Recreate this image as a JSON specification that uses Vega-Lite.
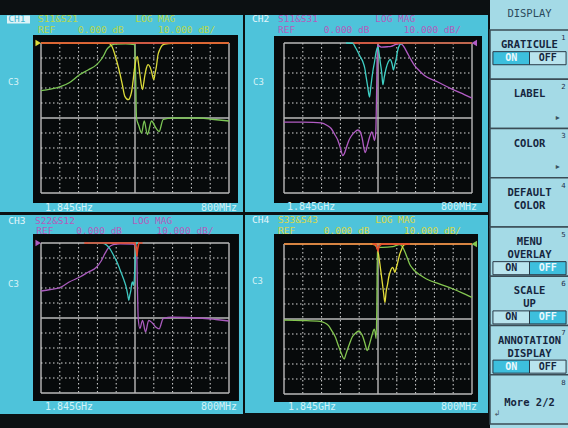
{
 "$schema": "https://vega.github.io/schema/vega-lite/v6.json",
 "background": "#0c1012",
 "padding": 0,
 "data": {"values": [{"k": 1}]},
 "config": {"view": {"stroke": null}, "axis": {"disable": true}, "legend": {"disable": true}},
 "datasets": {
  "grid": [{"g":0,"db":0},{"g":1,"db":-10},{"g":2,"db":-20},{"g":3,"db":-30},{"g":4,"db":-40},{"g":5,"db":-50},{"g":6,"db":-60},{"g":7,"db":-70},{"g":8,"db":-80},{"g":9,"db":-90},{"g":10,"db":-100}],
  "traces": [
   {"p":1,"tr":"T","f":0,"v":-31.8},{"p":1,"tr":"T","f":0.5,"v":-30.8},{"p":1,"tr":"T","f":1.0,"v":-29.3},{"p":1,"tr":"T","f":1.5,"v":-26.5},{"p":1,"tr":"T","f":2.07,"v":-21},{"p":1,"tr":"T","f":2.5,"v":-18},{"p":1,"tr":"T","f":2.96,"v":-14.4},{"p":1,"tr":"T","f":3.2,"v":-11},{"p":1,"tr":"T","f":3.35,"v":-8},{"p":1,"tr":"T","f":3.49,"v":-4.4},{"p":1,"tr":"T","f":3.7,"v":-1.8},{"p":1,"tr":"T","f":3.93,"v":-0.7},{"p":1,"tr":"T","f":4.5,"v":-0.5},{"p":1,"tr":"T","f":4.98,"v":-1},{"p":1,"tr":"T","f":5.03,"v":-20},{"p":1,"tr":"T","f":5.08,"v":-50},{"p":1,"tr":"T","f":5.2,"v":-55},{"p":1,"tr":"T","f":5.35,"v":-60},{"p":1,"tr":"T","f":5.49,"v":-52},{"p":1,"tr":"T","f":5.66,"v":-61},{"p":1,"tr":"T","f":5.88,"v":-52},{"p":1,"tr":"T","f":6.08,"v":-56},{"p":1,"tr":"T","f":6.28,"v":-59},{"p":1,"tr":"T","f":6.5,"v":-51},{"p":1,"tr":"T","f":7.0,"v":-50},{"p":1,"tr":"T","f":8.44,"v":-50},{"p":1,"tr":"T","f":9.2,"v":-51},{"p":1,"tr":"T","f":10,"v":-52},
   {"p":1,"tr":"R","f":0,"v":0},{"p":1,"tr":"R","f":3.6,"v":-0.3},{"p":1,"tr":"R","f":3.8,"v":-3},{"p":1,"tr":"R","f":3.93,"v":-7.8},{"p":1,"tr":"R","f":4.05,"v":-13},{"p":1,"tr":"R","f":4.19,"v":-20},{"p":1,"tr":"R","f":4.33,"v":-28},{"p":1,"tr":"R","f":4.46,"v":-35.6},{"p":1,"tr":"R","f":4.64,"v":-37.8},{"p":1,"tr":"R","f":4.81,"v":-33},{"p":1,"tr":"R","f":4.9,"v":-25},{"p":1,"tr":"R","f":4.99,"v":-15.6},{"p":1,"tr":"R","f":5.12,"v":-8.9},{"p":1,"tr":"R","f":5.2,"v":-15},{"p":1,"tr":"R","f":5.26,"v":-21},{"p":1,"tr":"R","f":5.4,"v":-31},{"p":1,"tr":"R","f":5.46,"v":-27},{"p":1,"tr":"R","f":5.52,"v":-22},{"p":1,"tr":"R","f":5.6,"v":-17},{"p":1,"tr":"R","f":5.7,"v":-14.4},{"p":1,"tr":"R","f":5.8,"v":-16},{"p":1,"tr":"R","f":5.88,"v":-19},{"p":1,"tr":"R","f":6.0,"v":-24.4},{"p":1,"tr":"R","f":6.07,"v":-20},{"p":1,"tr":"R","f":6.14,"v":-15.6},{"p":1,"tr":"R","f":6.22,"v":-8},{"p":1,"tr":"R","f":6.32,"v":-4.4},{"p":1,"tr":"R","f":6.45,"v":-1.5},{"p":1,"tr":"R","f":6.58,"v":-0.7},{"p":1,"tr":"R","f":7,"v":-0.2},{"p":1,"tr":"R","f":10,"v":0},
   {"p":1,"tr":"M","f":0,"v":0},{"p":1,"tr":"M","f":10,"v":0},
   {"p":2,"tr":"T","f":0,"v":-52.7},{"p":2,"tr":"T","f":1.0,"v":-52.8},{"p":2,"tr":"T","f":1.98,"v":-53.3},{"p":2,"tr":"T","f":2.3,"v":-55},{"p":2,"tr":"T","f":2.51,"v":-57},{"p":2,"tr":"T","f":2.7,"v":-61},{"p":2,"tr":"T","f":2.87,"v":-65},{"p":2,"tr":"T","f":3.0,"v":-70},{"p":2,"tr":"T","f":3.13,"v":-75},{"p":2,"tr":"T","f":3.2,"v":-74},{"p":2,"tr":"T","f":3.31,"v":-70},{"p":2,"tr":"T","f":3.45,"v":-65},{"p":2,"tr":"T","f":3.58,"v":-62},{"p":2,"tr":"T","f":3.75,"v":-59.5},{"p":2,"tr":"T","f":3.93,"v":-58},{"p":2,"tr":"T","f":4.05,"v":-59},{"p":2,"tr":"T","f":4.15,"v":-63},{"p":2,"tr":"T","f":4.32,"v":-73},{"p":2,"tr":"T","f":4.42,"v":-69},{"p":2,"tr":"T","f":4.5,"v":-65},{"p":2,"tr":"T","f":4.6,"v":-61},{"p":2,"tr":"T","f":4.67,"v":-59.3},{"p":2,"tr":"T","f":4.75,"v":-62},{"p":2,"tr":"T","f":4.81,"v":-65},{"p":2,"tr":"T","f":4.88,"v":-60},{"p":2,"tr":"T","f":4.93,"v":-30},{"p":2,"tr":"T","f":4.97,"v":-1.5},{"p":2,"tr":"T","f":5.17,"v":-2.7},{"p":2,"tr":"T","f":5.5,"v":-2.5},{"p":2,"tr":"T","f":5.7,"v":-2.2},{"p":2,"tr":"T","f":5.96,"v":-0.9},{"p":2,"tr":"T","f":6.2,"v":-0.4},{"p":2,"tr":"T","f":6.35,"v":-2},{"p":2,"tr":"T","f":6.58,"v":-7.1},{"p":2,"tr":"T","f":6.75,"v":-11},{"p":2,"tr":"T","f":6.94,"v":-14.9},{"p":2,"tr":"T","f":7.2,"v":-18.5},{"p":2,"tr":"T","f":7.47,"v":-21.6},{"p":2,"tr":"T","f":8.18,"v":-26},{"p":2,"tr":"T","f":8.88,"v":-30.4},{"p":2,"tr":"T","f":9.59,"v":-34.4},{"p":2,"tr":"T","f":10,"v":-36.7},
   {"p":2,"tr":"R","f":3.3,"v":0},{"p":2,"tr":"R","f":3.66,"v":-0.3},{"p":2,"tr":"R","f":3.8,"v":-3},{"p":2,"tr":"R","f":3.93,"v":-6},{"p":2,"tr":"R","f":4.05,"v":-9},{"p":2,"tr":"R","f":4.2,"v":-12.7},{"p":2,"tr":"R","f":4.3,"v":-17},{"p":2,"tr":"R","f":4.37,"v":-22.7},{"p":2,"tr":"R","f":4.45,"v":-29},{"p":2,"tr":"R","f":4.55,"v":-36},{"p":2,"tr":"R","f":4.61,"v":-30},{"p":2,"tr":"R","f":4.67,"v":-24},{"p":2,"tr":"R","f":4.75,"v":-17},{"p":2,"tr":"R","f":4.81,"v":-13},{"p":2,"tr":"R","f":4.9,"v":-6},{"p":2,"tr":"R","f":4.99,"v":-2.7},{"p":2,"tr":"R","f":5.05,"v":-6},{"p":2,"tr":"R","f":5.12,"v":-12.7},{"p":2,"tr":"R","f":5.2,"v":-20},{"p":2,"tr":"R","f":5.26,"v":-27.8},{"p":2,"tr":"R","f":5.33,"v":-23},{"p":2,"tr":"R","f":5.43,"v":-17},{"p":2,"tr":"R","f":5.55,"v":-12.5},{"p":2,"tr":"R","f":5.65,"v":-11},{"p":2,"tr":"R","f":5.75,"v":-14},{"p":2,"tr":"R","f":5.82,"v":-18},{"p":2,"tr":"R","f":5.9,"v":-14},{"p":2,"tr":"R","f":5.96,"v":-11},{"p":2,"tr":"R","f":6.03,"v":-6},{"p":2,"tr":"R","f":6.1,"v":-2.7},{"p":2,"tr":"R","f":6.23,"v":-0.4},{"p":2,"tr":"R","f":6.5,"v":0},{"p":2,"tr":"R","f":10,"v":0},
   {"p":2,"tr":"M","f":3.7,"v":0},{"p":2,"tr":"M","f":10,"v":0},
   {"p":3,"tr":"T","f":0,"v":-32},{"p":3,"tr":"T","f":0.5,"v":-31},{"p":3,"tr":"T","f":1.0,"v":-29.8},{"p":3,"tr":"T","f":1.5,"v":-26},{"p":3,"tr":"T","f":2.07,"v":-22.7},{"p":3,"tr":"T","f":2.5,"v":-19.5},{"p":3,"tr":"T","f":2.96,"v":-16},{"p":3,"tr":"T","f":3.2,"v":-12},{"p":3,"tr":"T","f":3.4,"v":-7.1},{"p":3,"tr":"T","f":3.6,"v":-3},{"p":3,"tr":"T","f":3.84,"v":-1.1},{"p":3,"tr":"T","f":4.2,"v":-0.5},{"p":3,"tr":"T","f":4.9,"v":-0.8},{"p":3,"tr":"T","f":5.08,"v":-3},{"p":3,"tr":"T","f":5.13,"v":-30},{"p":3,"tr":"T","f":5.17,"v":-50},{"p":3,"tr":"T","f":5.26,"v":-57},{"p":3,"tr":"T","f":5.4,"v":-51.6},{"p":3,"tr":"T","f":5.56,"v":-59.3},{"p":3,"tr":"T","f":5.73,"v":-51.6},{"p":3,"tr":"T","f":5.9,"v":-53},{"p":3,"tr":"T","f":6.1,"v":-56},{"p":3,"tr":"T","f":6.28,"v":-57.3},{"p":3,"tr":"T","f":6.5,"v":-50.4},{"p":3,"tr":"T","f":7.0,"v":-49.5},{"p":3,"tr":"T","f":8.44,"v":-50},{"p":3,"tr":"T","f":9.3,"v":-51},{"p":3,"tr":"T","f":10,"v":-52},
   {"p":3,"tr":"R","f":2.5,"v":0},{"p":3,"tr":"R","f":3.3,"v":-0.3},{"p":3,"tr":"R","f":3.5,"v":-1.5},{"p":3,"tr":"R","f":3.66,"v":-3.8},{"p":3,"tr":"R","f":3.85,"v":-8},{"p":3,"tr":"R","f":4.0,"v":-11.6},{"p":3,"tr":"R","f":4.15,"v":-16},{"p":3,"tr":"R","f":4.28,"v":-20.4},{"p":3,"tr":"R","f":4.42,"v":-25},{"p":3,"tr":"R","f":4.55,"v":-30.4},{"p":3,"tr":"R","f":4.62,"v":-35},{"p":3,"tr":"R","f":4.67,"v":-38.2},{"p":3,"tr":"R","f":4.72,"v":-35},{"p":3,"tr":"R","f":4.78,"v":-31.6},{"p":3,"tr":"R","f":4.83,"v":-27},{"p":3,"tr":"R","f":4.87,"v":-26},{"p":3,"tr":"R","f":4.92,"v":-28.2},{"p":3,"tr":"R","f":4.96,"v":-25},{"p":3,"tr":"R","f":5.0,"v":-15},{"p":3,"tr":"R","f":5.03,"v":-5},{"p":3,"tr":"R","f":5.08,"v":0},{"p":3,"tr":"R","f":5.3,"v":0},
   {"p":3,"tr":"M","f":2.3,"v":0},{"p":3,"tr":"M","f":5.0,"v":0},{"p":3,"tr":"M","f":5.06,"v":-4},{"p":3,"tr":"M","f":5.1,"v":-9},{"p":3,"tr":"M","f":5.14,"v":-4},{"p":3,"tr":"M","f":5.2,"v":0},{"p":3,"tr":"M","f":5.4,"v":0},
   {"p":4,"tr":"T","f":0,"v":-50.7},{"p":4,"tr":"T","f":1.0,"v":-51},{"p":4,"tr":"T","f":1.92,"v":-51.6},{"p":4,"tr":"T","f":2.15,"v":-52.5},{"p":4,"tr":"T","f":2.37,"v":-54.4},{"p":4,"tr":"T","f":2.55,"v":-58},{"p":4,"tr":"T","f":2.73,"v":-62},{"p":4,"tr":"T","f":2.9,"v":-68},{"p":4,"tr":"T","f":3.05,"v":-73},{"p":4,"tr":"T","f":3.2,"v":-76.7},{"p":4,"tr":"T","f":3.28,"v":-74},{"p":4,"tr":"T","f":3.36,"v":-71},{"p":4,"tr":"T","f":3.5,"v":-66},{"p":4,"tr":"T","f":3.63,"v":-62},{"p":4,"tr":"T","f":3.8,"v":-59.5},{"p":4,"tr":"T","f":3.99,"v":-58},{"p":4,"tr":"T","f":4.1,"v":-59.5},{"p":4,"tr":"T","f":4.2,"v":-62},{"p":4,"tr":"T","f":4.3,"v":-66},{"p":4,"tr":"T","f":4.43,"v":-71},{"p":4,"tr":"T","f":4.52,"v":-68},{"p":4,"tr":"T","f":4.6,"v":-64.4},{"p":4,"tr":"T","f":4.7,"v":-60},{"p":4,"tr":"T","f":4.8,"v":-56.7},{"p":4,"tr":"T","f":4.85,"v":-59},{"p":4,"tr":"T","f":4.9,"v":-63},{"p":4,"tr":"T","f":4.94,"v":-40},{"p":4,"tr":"T","f":4.97,"v":-2.2},{"p":4,"tr":"T","f":5.24,"v":-2.2},{"p":4,"tr":"T","f":5.78,"v":-1.8},{"p":4,"tr":"T","f":6.14,"v":-0.4},{"p":4,"tr":"T","f":6.28,"v":-1.5},{"p":4,"tr":"T","f":6.4,"v":-4.4},{"p":4,"tr":"T","f":6.55,"v":-9},{"p":4,"tr":"T","f":6.68,"v":-13.3},{"p":4,"tr":"T","f":6.85,"v":-16.5},{"p":4,"tr":"T","f":7.04,"v":-18.9},{"p":4,"tr":"T","f":7.3,"v":-21.2},{"p":4,"tr":"T","f":7.58,"v":-23.3},{"p":4,"tr":"T","f":8.29,"v":-26.7},{"p":4,"tr":"T","f":9.0,"v":-30},{"p":4,"tr":"T","f":9.5,"v":-32.7},{"p":4,"tr":"T","f":10,"v":-35.6},
   {"p":4,"tr":"R","f":4.6,"v":0},{"p":4,"tr":"R","f":4.8,"v":-0.5},{"p":4,"tr":"R","f":4.9,"v":-1.5},{"p":4,"tr":"R","f":4.97,"v":-3.3},{"p":4,"tr":"R","f":5.03,"v":-7},{"p":4,"tr":"R","f":5.1,"v":-13.3},{"p":4,"tr":"R","f":5.17,"v":-20},{"p":4,"tr":"R","f":5.24,"v":-26.7},{"p":4,"tr":"R","f":5.3,"v":-33},{"p":4,"tr":"R","f":5.37,"v":-39},{"p":4,"tr":"R","f":5.43,"v":-32},{"p":4,"tr":"R","f":5.51,"v":-26.7},{"p":4,"tr":"R","f":5.58,"v":-21.5},{"p":4,"tr":"R","f":5.64,"v":-18.9},{"p":4,"tr":"R","f":5.71,"v":-16.5},{"p":4,"tr":"R","f":5.78,"v":-15.6},{"p":4,"tr":"R","f":5.84,"v":-17},{"p":4,"tr":"R","f":5.9,"v":-18.9},{"p":4,"tr":"R","f":5.97,"v":-16},{"p":4,"tr":"R","f":6.05,"v":-12.2},{"p":4,"tr":"R","f":6.14,"v":-7.5},{"p":4,"tr":"R","f":6.23,"v":-4.4},{"p":4,"tr":"R","f":6.32,"v":-1.5},{"p":4,"tr":"R","f":6.41,"v":-0.4},{"p":4,"tr":"R","f":6.6,"v":0},
   {"p":4,"tr":"O","f":0,"v":0},{"p":4,"tr":"O","f":10,"v":0},
   {"p":4,"tr":"M","f":4.7,"v":0},{"p":4,"tr":"M","f":4.88,"v":0},{"p":4,"tr":"M","f":4.95,"v":-3},{"p":4,"tr":"M","f":5.0,"v":-4.4},{"p":4,"tr":"M","f":5.06,"v":-1.5},{"p":4,"tr":"M","f":5.2,"v":0},{"p":4,"tr":"M","f":6.7,"v":0}
  ],
  "keys": [{"item":"GRATICULE","n":"1"},{"item":"LABEL","n":"2"},{"item":"COLOR","n":"3"},{"item":"DEFAULT COLOR","n":"4"},{"item":"MENU OVERLAY","n":"5"},{"item":"SCALE UP","n":"6"},{"item":"ANNOTATION DISPLAY","n":"7"},{"item":"More 2/2","n":"8"}],
  "lines": [
   {"item":"GRATICULE","line":"1","t":"GRATICULE"},
   {"item":"LABEL","line":"1","t":"LABEL"},
   {"item":"COLOR","line":"1","t":"COLOR"},
   {"item":"DEFAULT COLOR","line":"1","t":"DEFAULT"},{"item":"DEFAULT COLOR","line":"2","t":"COLOR"},
   {"item":"MENU OVERLAY","line":"1","t":"MENU"},{"item":"MENU OVERLAY","line":"2","t":"OVERLAY"},
   {"item":"SCALE UP","line":"1","t":"SCALE"},{"item":"SCALE UP","line":"2","t":"UP"},
   {"item":"ANNOTATION DISPLAY","line":"1","t":"ANNOTATION"},{"item":"ANNOTATION DISPLAY","line":"2","t":"DISPLAY"},
   {"item":"More 2/2","line":"2","t":"More 2/2"}
  ],
  "toggles": [
   {"item":"GRATICULE","line":"2","half":"ON","on":"y"},{"item":"GRATICULE","line":"2","half":"OFF","on":"n"},
   {"item":"MENU OVERLAY","line":"3","half":"ON","on":"n"},{"item":"MENU OVERLAY","line":"3","half":"OFF","on":"y"},
   {"item":"SCALE UP","line":"3","half":"ON","on":"n"},{"item":"SCALE UP","line":"3","half":"OFF","on":"y"},
   {"item":"ANNOTATION DISPLAY","line":"3","half":"ON","on":"y"},{"item":"ANNOTATION DISPLAY","line":"3","half":"OFF","on":"n"}
  ],
  "arrows": [{"item":"LABEL"},{"item":"COLOR"}]
 },
 "resolve": {"scale": {"color": "independent"}},
 "hconcat": [
  {"resolve": {"scale": {"color": "independent"}}, "vconcat": [
   {"resolve": {"scale": {"color": "independent"}}, "hconcat": [
    {"width": 243, "height": 212, "layer": [
     {"mark": {"type": "rect", "fill": "#4ec3da"}, "encoding": {"x": {"datum": -2.1809, "type": "quantitative", "scale": {"domain": [-2.1809, 10.7447], "nice": false, "zero": false}}, "x2": {"datum": 10.7447}, "y": {"datum": 18.667, "type": "quantitative", "scale": {"domain": [-112.667, 28.667], "nice": false, "zero": false}}, "y2": {"datum": -112.667}}},
     {"mark": {"type": "rect", "fill": "#070a0b"}, "encoding": {"x": {"datum": -0.4255, "type": "quantitative"}, "x2": {"datum": 10.479}, "y": {"datum": 5.333, "type": "quantitative"}, "y2": {"datum": -106.667}}},
     {"data": {"name": "grid"}, "mark": {"type": "rule"}, "encoding": {"x": {"field": "g", "type": "quantitative"}, "y": {"datum": 0, "type": "quantitative"}, "y2": {"datum": -100}, "color": {"condition": {"test": "datum.g % 5 === 0", "value": "#b9b9b9"}, "value": "#d8d8d8"}, "strokeDash": {"condition": {"test": "datum.g % 5 === 0", "value": [1, 0]}, "value": [1.5, 2.5]}, "strokeWidth": {"condition": {"test": "datum.g % 5 === 0", "value": 1.4}, "value": 1}}},
     {"data": {"name": "grid"}, "mark": {"type": "rule"}, "encoding": {"y": {"field": "db", "type": "quantitative"}, "x": {"datum": 0, "type": "quantitative"}, "x2": {"datum": 10}, "color": {"condition": {"test": "datum.g % 5 === 0", "value": "#b9b9b9"}, "value": "#d8d8d8"}, "strokeDash": {"condition": {"test": "datum.g % 5 === 0", "value": [1, 0]}, "value": [1.5, 2.5]}, "strokeWidth": {"condition": {"test": "datum.g % 5 === 0", "value": 1.4}, "value": 1}}},
     {"data": {"name": "traces"}, "transform": [{"filter": "datum.p === 1 && (datum.tr === 'T' || datum.tr === 'R')"}], "mark": {"type": "line", "interpolate": "monotone", "strokeWidth": 1.3}, "encoding": {"x": {"field": "f", "type": "quantitative"}, "y": {"field": "v", "type": "quantitative"}, "color": {"field": "tr", "type": "nominal", "scale": {"domain": ["T","R","O","M"], "range": ["#7cc655","#dcdc3a","#f0822a","#e5482b"]}}}},
     {"data": {"name": "traces"}, "transform": [{"filter": "datum.p === 1 && (datum.tr === 'O' || datum.tr === 'M')"}], "mark": {"type": "line", "strokeWidth": 1.6}, "encoding": {"x": {"field": "f", "type": "quantitative"}, "y": {"field": "v", "type": "quantitative"}, "color": {"field": "tr", "type": "nominal", "scale": {"domain": ["T","R","O","M"], "range": ["#7cc655","#dcdc3a","#f0822a","#e5482b"]}}}},
     {"mark": {"type": "point", "shape": "triangle-right", "filled": true, "size": 40, "color": "#dcdc3a", "opacity": 1}, "encoding": {"x": {"datum": -0.15, "type": "quantitative"}, "y": {"datum": 0, "type": "quantitative"}}},
     {"mark": {"type": "rect", "fill": "#dff3f7"}, "encoding": {"x": {"datum": -1.81, "type": "quantitative"}, "x2": {"datum": -0.585}, "y": {"datum": 18.3, "type": "quantitative"}, "y2": {"datum": 13.0}}},
     {"mark": {"type": "text", "text": "CH1", "font": "DejaVu Sans Mono", "fontSize": 9.5, "align": "left", "baseline": "middle", "color": "#3fb6d0"}, "encoding": {"x": {"datum": -1.74, "type": "quantitative"}, "y": {"datum": 15.67, "type": "quantitative"}}},
     {"mark": {"type": "text", "text": "S11&S21\u00a0\u00a0\u00a0\u00a0\u00a0\u00a0\u00a0\u00a0\u00a0\u00a0LOG\u00a0MAG", "font": "DejaVu Sans Mono", "fontSize": 9.5, "align": "left", "baseline": "middle", "color": "#b8d84c"}, "encoding": {"x": {"datum": -0.16, "type": "quantitative"}, "y": {"datum": 15.67, "type": "quantitative"}}},
     {"mark": {"type": "text", "text": "REF\u00a0\u00a0\u00a0\u00a00.000\u00a0dB\u00a0\u00a0\u00a0\u00a0\u00a0\u00a010.000\u00a0dB/", "font": "DejaVu Sans Mono", "fontSize": 9.5, "align": "left", "baseline": "middle", "color": "#b8d84c"}, "encoding": {"x": {"datum": -0.16, "type": "quantitative"}, "y": {"datum": 8.67, "type": "quantitative"}}},
     {"mark": {"type": "text", "text": "C3", "font": "DejaVu Sans Mono", "fontSize": 9, "align": "left", "baseline": "middle", "color": "#d8f2f6"}, "encoding": {"x": {"datum": -1.755, "type": "quantitative"}, "y": {"datum": -26, "type": "quantitative"}}},
     {"mark": {"type": "text", "text": "1.845GHz", "font": "DejaVu Sans Mono", "fontSize": 10, "align": "left", "baseline": "middle", "color": "#d2f2f8"}, "encoding": {"x": {"datum": 0.21, "type": "quantitative"}, "y": {"datum": -110, "type": "quantitative"}}},
     {"mark": {"type": "text", "text": "800MHz", "font": "DejaVu Sans Mono", "fontSize": 10, "align": "right", "baseline": "middle", "color": "#d2f2f8"}, "encoding": {"x": {"datum": 10.43, "type": "quantitative"}, "y": {"datum": -110, "type": "quantitative"}}}
    ]},
    {"width": 243, "height": 212, "layer": [
     {"mark": {"type": "rect", "fill": "#4ec3da"}, "encoding": {"x": {"datum": -2.0745, "type": "quantitative", "scale": {"domain": [-2.0745, 10.8511], "nice": false, "zero": false}}, "x2": {"datum": 10.8511}, "y": {"datum": 18.667, "type": "quantitative", "scale": {"domain": [-112.667, 28.667], "nice": false, "zero": false}}, "y2": {"datum": -112.667}}},
     {"mark": {"type": "rect", "fill": "#070a0b"}, "encoding": {"x": {"datum": -0.532, "type": "quantitative"}, "x2": {"datum": 10.532}, "y": {"datum": 4.67, "type": "quantitative"}, "y2": {"datum": -106.67}}},
     {"data": {"name": "grid"}, "mark": {"type": "rule"}, "encoding": {"x": {"field": "g", "type": "quantitative"}, "y": {"datum": 0, "type": "quantitative"}, "y2": {"datum": -100}, "color": {"condition": {"test": "datum.g % 5 === 0", "value": "#b9b9b9"}, "value": "#d8d8d8"}, "strokeDash": {"condition": {"test": "datum.g % 5 === 0", "value": [1, 0]}, "value": [1.5, 2.5]}, "strokeWidth": {"condition": {"test": "datum.g % 5 === 0", "value": 1.4}, "value": 1}}},
     {"data": {"name": "grid"}, "mark": {"type": "rule"}, "encoding": {"y": {"field": "db", "type": "quantitative"}, "x": {"datum": 0, "type": "quantitative"}, "x2": {"datum": 10}, "color": {"condition": {"test": "datum.g % 5 === 0", "value": "#b9b9b9"}, "value": "#d8d8d8"}, "strokeDash": {"condition": {"test": "datum.g % 5 === 0", "value": [1, 0]}, "value": [1.5, 2.5]}, "strokeWidth": {"condition": {"test": "datum.g % 5 === 0", "value": 1.4}, "value": 1}}},
     {"data": {"name": "traces"}, "transform": [{"filter": "datum.p === 2 && (datum.tr === 'T' || datum.tr === 'R')"}], "mark": {"type": "line", "interpolate": "monotone", "strokeWidth": 1.3}, "encoding": {"x": {"field": "f", "type": "quantitative"}, "y": {"field": "v", "type": "quantitative"}, "color": {"field": "tr", "type": "nominal", "scale": {"domain": ["T","R","O","M"], "range": ["#b25cc4","#3fcfc4","#f0822a","#e5482b"]}}}},
     {"data": {"name": "traces"}, "transform": [{"filter": "datum.p === 2 && (datum.tr === 'O' || datum.tr === 'M')"}], "mark": {"type": "line", "strokeWidth": 1.6}, "encoding": {"x": {"field": "f", "type": "quantitative"}, "y": {"field": "v", "type": "quantitative"}, "color": {"field": "tr", "type": "nominal", "scale": {"domain": ["T","R","O","M"], "range": ["#b25cc4","#3fcfc4","#f0822a","#e5482b"]}}}},
     {"mark": {"type": "point", "shape": "triangle-left", "filled": true, "size": 40, "color": "#b25cc4", "opacity": 1}, "encoding": {"x": {"datum": 10.12, "type": "quantitative"}, "y": {"datum": 0, "type": "quantitative"}}},
     {"mark": {"type": "text", "text": "CH2", "font": "DejaVu Sans Mono", "fontSize": 9.5, "align": "left", "baseline": "middle", "color": "#e6f6fa"}, "encoding": {"x": {"datum": -1.7, "type": "quantitative"}, "y": {"datum": 15.67, "type": "quantitative"}}},
     {"mark": {"type": "text", "text": "S11&S31\u00a0\u00a0\u00a0\u00a0\u00a0\u00a0\u00a0\u00a0\u00a0\u00a0LOG\u00a0MAG", "font": "DejaVu Sans Mono", "fontSize": 9.5, "align": "left", "baseline": "middle", "color": "#b45cbc"}, "encoding": {"x": {"datum": -0.32, "type": "quantitative"}, "y": {"datum": 15.67, "type": "quantitative"}}},
     {"mark": {"type": "text", "text": "REF\u00a0\u00a0\u00a0\u00a0\u00a00.000\u00a0dB\u00a0\u00a0\u00a0\u00a0\u00a0\u00a010.000\u00a0dB/", "font": "DejaVu Sans Mono", "fontSize": 9.5, "align": "left", "baseline": "middle", "color": "#b45cbc"}, "encoding": {"x": {"datum": -0.32, "type": "quantitative"}, "y": {"datum": 8.67, "type": "quantitative"}}},
     {"mark": {"type": "text", "text": "C3", "font": "DejaVu Sans Mono", "fontSize": 9, "align": "left", "baseline": "middle", "color": "#d8f2f6"}, "encoding": {"x": {"datum": -1.65, "type": "quantitative"}, "y": {"datum": -26, "type": "quantitative"}}},
     {"mark": {"type": "text", "text": "1.845GHz", "font": "DejaVu Sans Mono", "fontSize": 10, "align": "left", "baseline": "middle", "color": "#d2f2f8"}, "encoding": {"x": {"datum": 0.16, "type": "quantitative"}, "y": {"datum": -109.3, "type": "quantitative"}}},
     {"mark": {"type": "text", "text": "800MHz", "font": "DejaVu Sans Mono", "fontSize": 10, "align": "right", "baseline": "middle", "color": "#d2f2f8"}, "encoding": {"x": {"datum": 10.27, "type": "quantitative"}, "y": {"datum": -109.3, "type": "quantitative"}}}
    ]}
   ], "spacing": 2},
   {"resolve": {"scale": {"color": "independent"}}, "hconcat": [
    {"width": 243, "height": 214, "layer": [
     {"mark": {"type": "rect", "fill": "#4ec3da"}, "encoding": {"x": {"datum": -2.1809, "type": "quantitative", "scale": {"domain": [-2.1809, 10.7447], "nice": false, "zero": false}}, "x2": {"datum": 10.7447}, "y": {"datum": 18.667, "type": "quantitative", "scale": {"domain": [-124, 18.667], "nice": false, "zero": false}}, "y2": {"datum": -114}}},
     {"mark": {"type": "rect", "fill": "#070a0b"}, "encoding": {"x": {"datum": -0.4255, "type": "quantitative"}, "x2": {"datum": 10.53}, "y": {"datum": 6, "type": "quantitative"}, "y2": {"datum": -105.33}}},
     {"data": {"name": "grid"}, "mark": {"type": "rule"}, "encoding": {"x": {"field": "g", "type": "quantitative"}, "y": {"datum": 0, "type": "quantitative"}, "y2": {"datum": -100}, "color": {"condition": {"test": "datum.g % 5 === 0", "value": "#b9b9b9"}, "value": "#d8d8d8"}, "strokeDash": {"condition": {"test": "datum.g % 5 === 0", "value": [1, 0]}, "value": [1.5, 2.5]}, "strokeWidth": {"condition": {"test": "datum.g % 5 === 0", "value": 1.4}, "value": 1}}},
     {"data": {"name": "grid"}, "mark": {"type": "rule"}, "encoding": {"y": {"field": "db", "type": "quantitative"}, "x": {"datum": 0, "type": "quantitative"}, "x2": {"datum": 10}, "color": {"condition": {"test": "datum.g % 5 === 0", "value": "#b9b9b9"}, "value": "#d8d8d8"}, "strokeDash": {"condition": {"test": "datum.g % 5 === 0", "value": [1, 0]}, "value": [1.5, 2.5]}, "strokeWidth": {"condition": {"test": "datum.g % 5 === 0", "value": 1.4}, "value": 1}}},
     {"data": {"name": "traces"}, "transform": [{"filter": "datum.p === 3 && (datum.tr === 'T' || datum.tr === 'R')"}], "mark": {"type": "line", "interpolate": "monotone", "strokeWidth": 1.3}, "encoding": {"x": {"field": "f", "type": "quantitative"}, "y": {"field": "v", "type": "quantitative"}, "color": {"field": "tr", "type": "nominal", "scale": {"domain": ["T","R","O","M"], "range": ["#a95bbd","#3fc8c0","#f0822a","#e5482b"]}}}},
     {"data": {"name": "traces"}, "transform": [{"filter": "datum.p === 3 && (datum.tr === 'O' || datum.tr === 'M')"}], "mark": {"type": "line", "strokeWidth": 1.6}, "encoding": {"x": {"field": "f", "type": "quantitative"}, "y": {"field": "v", "type": "quantitative"}, "color": {"field": "tr", "type": "nominal", "scale": {"domain": ["T","R","O","M"], "range": ["#a95bbd","#3fc8c0","#f0822a","#e5482b"]}}}},
     {"mark": {"type": "point", "shape": "triangle-right", "filled": true, "size": 40, "color": "#a95bbd", "opacity": 1}, "encoding": {"x": {"datum": -0.15, "type": "quantitative"}, "y": {"datum": 0, "type": "quantitative"}}},
     {"mark": {"type": "text", "text": "CH3", "font": "DejaVu Sans Mono", "fontSize": 9.5, "align": "left", "baseline": "middle", "color": "#e6f6fa"}, "encoding": {"x": {"datum": -1.74, "type": "quantitative"}, "y": {"datum": 15, "type": "quantitative"}}},
     {"mark": {"type": "text", "text": "S22&S12\u00a0\u00a0\u00a0\u00a0\u00a0\u00a0\u00a0\u00a0\u00a0\u00a0LOG\u00a0MAG", "font": "DejaVu Sans Mono", "fontSize": 9.5, "align": "left", "baseline": "middle", "color": "#b45cbc"}, "encoding": {"x": {"datum": -0.32, "type": "quantitative"}, "y": {"datum": 15, "type": "quantitative"}}},
     {"mark": {"type": "text", "text": "REF\u00a0\u00a0\u00a0\u00a00.000\u00a0dB\u00a0\u00a0\u00a0\u00a0\u00a0\u00a010.000\u00a0dB/", "font": "DejaVu Sans Mono", "fontSize": 9.5, "align": "left", "baseline": "middle", "color": "#b45cbc"}, "encoding": {"x": {"datum": -0.25, "type": "quantitative"}, "y": {"datum": 8, "type": "quantitative"}}},
     {"mark": {"type": "text", "text": "C3", "font": "DejaVu Sans Mono", "fontSize": 9, "align": "left", "baseline": "middle", "color": "#d8f2f6"}, "encoding": {"x": {"datum": -1.755, "type": "quantitative"}, "y": {"datum": -27.3, "type": "quantitative"}}},
     {"mark": {"type": "text", "text": "1.845GHz", "font": "DejaVu Sans Mono", "fontSize": 10, "align": "left", "baseline": "middle", "color": "#d2f2f8"}, "encoding": {"x": {"datum": 0.21, "type": "quantitative"}, "y": {"datum": -109.3, "type": "quantitative"}}},
     {"mark": {"type": "text", "text": "800MHz", "font": "DejaVu Sans Mono", "fontSize": 10, "align": "right", "baseline": "middle", "color": "#d2f2f8"}, "encoding": {"x": {"datum": 10.43, "type": "quantitative"}, "y": {"datum": -109.3, "type": "quantitative"}}}
    ]},
    {"width": 243, "height": 214, "layer": [
     {"mark": {"type": "rect", "fill": "#4ec3da"}, "encoding": {"x": {"datum": -2.0745, "type": "quantitative", "scale": {"domain": [-2.0745, 10.8511], "nice": false, "zero": false}}, "x2": {"datum": 10.8511}, "y": {"datum": 19.333, "type": "quantitative", "scale": {"domain": [-123.333, 19.333], "nice": false, "zero": false}}, "y2": {"datum": -112.667}}},
     {"mark": {"type": "rect", "fill": "#070a0b"}, "encoding": {"x": {"datum": -0.532, "type": "quantitative"}, "x2": {"datum": 10.32}, "y": {"datum": 6.67, "type": "quantitative"}, "y2": {"datum": -105.33}}},
     {"data": {"name": "grid"}, "mark": {"type": "rule"}, "encoding": {"x": {"field": "g", "type": "quantitative"}, "y": {"datum": 0, "type": "quantitative"}, "y2": {"datum": -100}, "color": {"condition": {"test": "datum.g % 5 === 0", "value": "#b9b9b9"}, "value": "#d8d8d8"}, "strokeDash": {"condition": {"test": "datum.g % 5 === 0", "value": [1, 0]}, "value": [1.5, 2.5]}, "strokeWidth": {"condition": {"test": "datum.g % 5 === 0", "value": 1.4}, "value": 1}}},
     {"data": {"name": "grid"}, "mark": {"type": "rule"}, "encoding": {"y": {"field": "db", "type": "quantitative"}, "x": {"datum": 0, "type": "quantitative"}, "x2": {"datum": 10}, "color": {"condition": {"test": "datum.g % 5 === 0", "value": "#b9b9b9"}, "value": "#d8d8d8"}, "strokeDash": {"condition": {"test": "datum.g % 5 === 0", "value": [1, 0]}, "value": [1.5, 2.5]}, "strokeWidth": {"condition": {"test": "datum.g % 5 === 0", "value": 1.4}, "value": 1}}},
     {"data": {"name": "traces"}, "transform": [{"filter": "datum.p === 4 && (datum.tr === 'T' || datum.tr === 'R')"}], "mark": {"type": "line", "interpolate": "monotone", "strokeWidth": 1.3}, "encoding": {"x": {"field": "f", "type": "quantitative"}, "y": {"field": "v", "type": "quantitative"}, "color": {"field": "tr", "type": "nominal", "scale": {"domain": ["T","R","O","M"], "range": ["#84c650","#e2dc3a","#f0822a","#e5482b"]}}}},
     {"data": {"name": "traces"}, "transform": [{"filter": "datum.p === 4 && (datum.tr === 'O' || datum.tr === 'M')"}], "mark": {"type": "line", "strokeWidth": 1.6}, "encoding": {"x": {"field": "f", "type": "quantitative"}, "y": {"field": "v", "type": "quantitative"}, "color": {"field": "tr", "type": "nominal", "scale": {"domain": ["T","R","O","M"], "range": ["#84c650","#e2dc3a","#f0822a","#e5482b"]}}}},
     {"mark": {"type": "point", "shape": "triangle-left", "filled": true, "size": 40, "color": "#84c650", "opacity": 1}, "encoding": {"x": {"datum": 10.12, "type": "quantitative"}, "y": {"datum": 0, "type": "quantitative"}}},
     {"mark": {"type": "text", "text": "CH4", "font": "DejaVu Sans Mono", "fontSize": 9.5, "align": "left", "baseline": "middle", "color": "#e6f6fa"}, "encoding": {"x": {"datum": -1.7, "type": "quantitative"}, "y": {"datum": 15.67, "type": "quantitative"}}},
     {"mark": {"type": "text", "text": "S33&S43\u00a0\u00a0\u00a0\u00a0\u00a0\u00a0\u00a0\u00a0\u00a0\u00a0LOG\u00a0MAG", "font": "DejaVu Sans Mono", "fontSize": 9.5, "align": "left", "baseline": "middle", "color": "#d8d84a"}, "encoding": {"x": {"datum": -0.32, "type": "quantitative"}, "y": {"datum": 15.67, "type": "quantitative"}}},
     {"mark": {"type": "text", "text": "REF\u00a0\u00a0\u00a0\u00a0\u00a00.000\u00a0dB\u00a0\u00a0\u00a0\u00a0\u00a0\u00a010.000\u00a0dB/", "font": "DejaVu Sans Mono", "fontSize": 9.5, "align": "left", "baseline": "middle", "color": "#d8d84a"}, "encoding": {"x": {"datum": -0.32, "type": "quantitative"}, "y": {"datum": 8.67, "type": "quantitative"}}},
     {"mark": {"type": "text", "text": "C3", "font": "DejaVu Sans Mono", "fontSize": 9, "align": "left", "baseline": "middle", "color": "#d8f2f6"}, "encoding": {"x": {"datum": -1.7, "type": "quantitative"}, "y": {"datum": -24.7, "type": "quantitative"}}},
     {"mark": {"type": "text", "text": "1.845GHz", "font": "DejaVu Sans Mono", "fontSize": 10, "align": "left", "baseline": "middle", "color": "#d2f2f8"}, "encoding": {"x": {"datum": 0.21, "type": "quantitative"}, "y": {"datum": -108.7, "type": "quantitative"}}},
     {"mark": {"type": "text", "text": "800MHz", "font": "DejaVu Sans Mono", "fontSize": 10, "align": "right", "baseline": "middle", "color": "#d2f2f8"}, "encoding": {"x": {"datum": 10.27, "type": "quantitative"}, "y": {"datum": -108.7, "type": "quantitative"}}}
    ]}
   ], "spacing": 2}
  ], "spacing": 2},
  {"width": 79, "height": 428, "view": {"fill": "#a4dae6"}, "layer": [
   {"data": {"name": "keys"}, "mark": {"type": "rect", "fill": "#a4dae6", "stroke": "#3a4c56", "strokeWidth": 1.5}, "encoding": {"y": {"field": "item", "type": "nominal", "scale": {"domain": ["GRATICULE","LABEL","COLOR","DEFAULT COLOR","MENU OVERLAY","SCALE UP","ANNOTATION DISPLAY","More 2/2"], "paddingInner": 0, "paddingOuter": 0.347, "align": 0.88}}}},
   {"mark": {"type": "text", "text": "DISPLAY", "font": "DejaVu Sans Mono", "fontSize": 10.5, "color": "#2b4a5c", "dy": -41}, "encoding": {"y": {"datum": "GRATICULE", "type": "nominal"}}},
   {"data": {"name": "toggles"}, "mark": {"type": "rect", "stroke": "#2a3a48", "strokeWidth": 1}, "encoding": {"y": {"field": "item", "type": "nominal"}, "yOffset": {"field": "line", "type": "nominal", "scale": {"domain": ["1","2","3"], "paddingInner": 0, "paddingOuter": 0.385, "align": 0.85}}, "x": {"field": "half", "type": "nominal", "scale": {"domain": ["ON","OFF"], "paddingInner": 0, "paddingOuter": 0.08}}, "fill": {"condition": {"test": "datum.on === 'y'", "value": "#3dbfdd"}, "value": "#b9e4ee"}}},
   {"data": {"name": "toggles"}, "mark": {"type": "text", "font": "DejaVu Sans Mono", "fontWeight": "bold", "fontSize": 10}, "encoding": {"y": {"field": "item", "type": "nominal"}, "yOffset": {"field": "line", "type": "nominal"}, "x": {"field": "half", "type": "nominal"}, "text": {"field": "half"}, "color": {"condition": {"test": "datum.on === 'y'", "value": "#eaf8fc"}, "value": "#16263e"}}},
   {"data": {"name": "lines"}, "mark": {"type": "text", "font": "DejaVu Sans Mono", "fontWeight": "bold", "fontSize": 10.5, "color": "#16263e"}, "encoding": {"y": {"field": "item", "type": "nominal"}, "yOffset": {"field": "line", "type": "nominal"}, "text": {"field": "t"}}},
   {"data": {"name": "keys"}, "mark": {"type": "text", "font": "DejaVu Sans", "fontSize": 7, "color": "#1c2c48", "align": "right", "dx": 18}, "encoding": {"y": {"field": "item", "type": "nominal", "bandPosition": 0.16}, "x": {"datum": "OFF", "type": "nominal"}, "text": {"field": "n"}}},
   {"data": {"name": "arrows"}, "mark": {"type": "text", "text": "▸", "font": "DejaVu Sans", "fontSize": 8, "color": "#3a5260", "dx": 10}, "encoding": {"y": {"field": "item", "type": "nominal", "bandPosition": 0.78}, "x": {"datum": "OFF", "type": "nominal"}}},
   {"data": {"values": [{"item": "More 2/2"}]}, "mark": {"type": "text", "text": "↲", "font": "DejaVu Sans", "fontSize": 8, "color": "#4a5a66", "dx": -14}, "encoding": {"y": {"field": "item", "type": "nominal", "bandPosition": 0.8}, "x": {"datum": "ON", "type": "nominal"}}}
  ]}
 ],
 "spacing": 1
}
